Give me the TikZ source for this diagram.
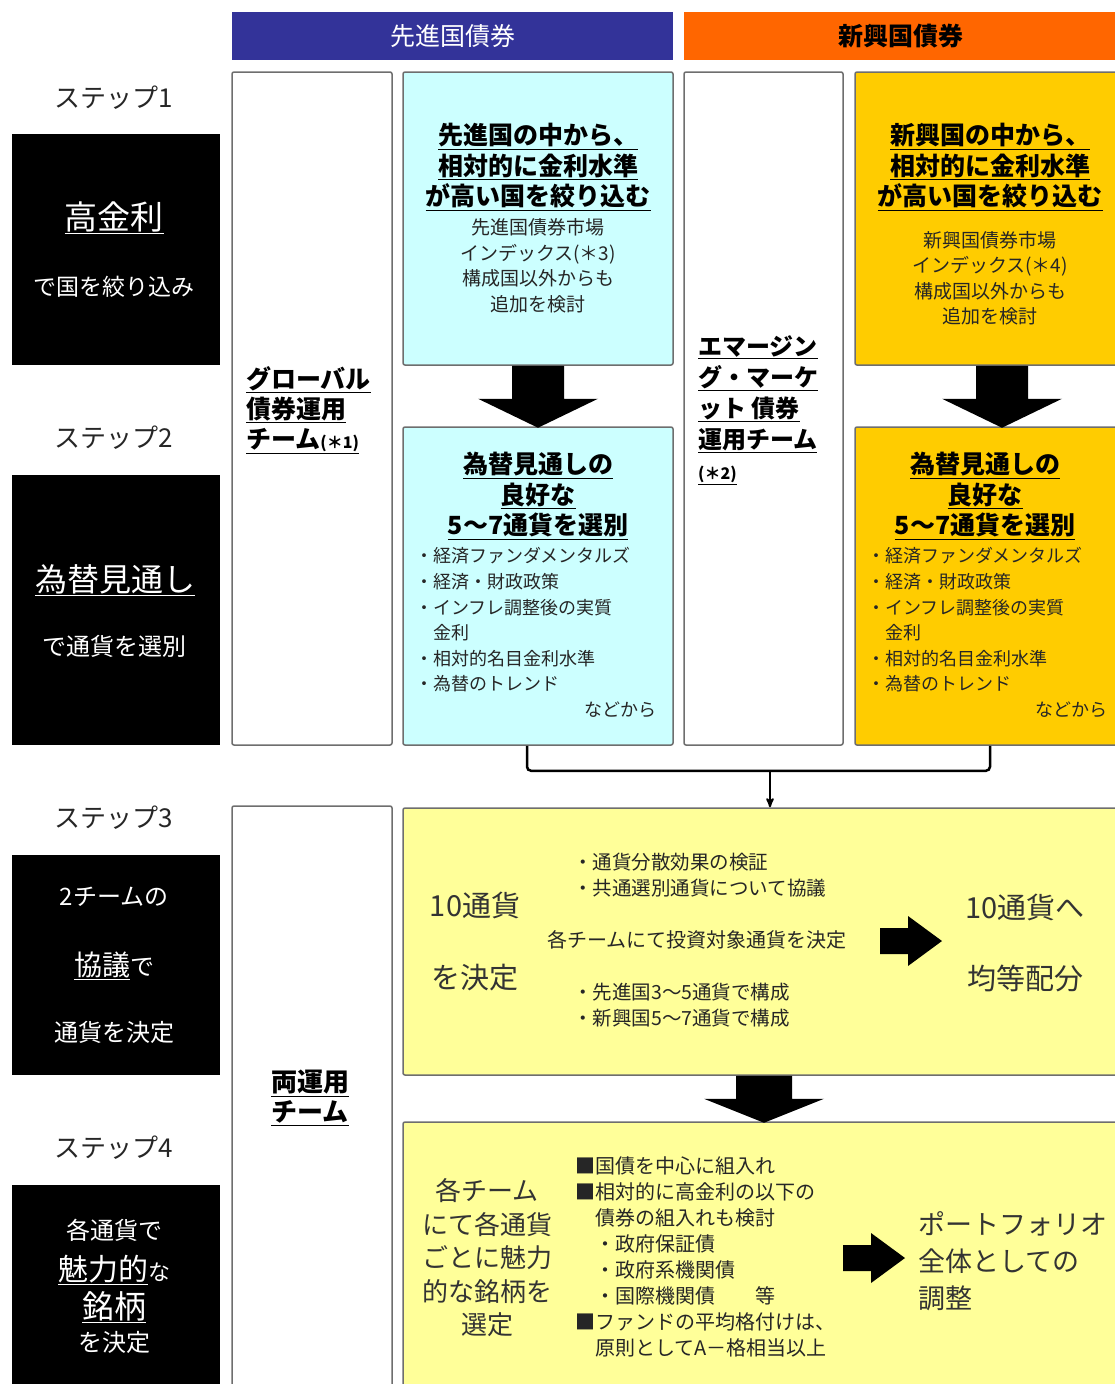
\documentclass[tikz,border=0pt]{standalone}
\usepackage{fontspec}
\setmainfont{Noto Sans CJK JP}
\usepackage{xcolor}
\definecolor{devBlue}{RGB}{51,51,153}
\definecolor{emgOrange}{RGB}{255,102,0}
\definecolor{devFill}{RGB}{204,255,255}
\definecolor{emgFill}{RGB}{255,204,0}
\definecolor{jointFill}{RGB}{255,255,153}
\definecolor{edgeGray}{RGB}{110,110,110}
\usepackage{tikz}
\usetikzlibrary{arrows,positioning,calc}
\newcommand{\fsz}[2]{\fontsize{#1}{#2}\selectfont}
\tikzstyle{hdr}=[rectangle, minimum height=48pt, inner sep=0pt, font=\fsz{25}{30}]
\tikzstyle{steplabel}=[inner sep=0pt, text=black!85, font=\fsz{26}{30}]
\tikzstyle{stepbox}=[rectangle, fill=black, minimum width=208pt, inner sep=0pt]
\tikzstyle{steptext}=[text=white, inner sep=0pt, align=center]
\tikzstyle{teamcol}=[rectangle, draw=edgeGray, line width=1.5pt, fill=white, rounded corners=2pt, minimum width=160pt, inner sep=0pt]
\tikzstyle{teamtext}=[inner sep=0pt, align=left, font=\bfseries\fsz{25}{30}]
\tikzstyle{devbox}=[rectangle, draw=edgeGray, line width=1.5pt, fill=devFill, rounded corners=2pt, minimum width=270pt, inner sep=0pt]
\tikzstyle{emgbox}=[rectangle, draw=edgeGray, line width=1.5pt, fill=emgFill, rounded corners=2pt, minimum width=290pt, inner sep=0pt]
\tikzstyle{yelbox}=[rectangle, draw=edgeGray, line width=1.5pt, fill=jointFill, rounded corners=2pt, minimum width=742pt, inner sep=0pt]
\tikzstyle{boxtitle}=[inner sep=0pt, align=center, font=\bfseries\fsz{25}{30.5}]
\tikzstyle{boxnote}=[inner sep=0pt, align=center, text=black!85, font=\fsz{19}{25.5}]
\tikzstyle{boxlist}=[inner sep=0pt, anchor=west, align=left, text=black!85, font=\fsz{18}{25.6}]
\tikzstyle{bigtext}=[inner sep=0pt, text=black!80, font=\fsz{29}{34}]
\tikzstyle{yellist}=[inner sep=0pt, anchor=west, align=left, text=black!85, font=\fsz{19.5}{26}]
\tikzstyle{joinline}=[line width=2.5pt, rounded corners=4pt]
\tikzstyle{joinarrow}=[->, >=stealth', line width=2pt]
\tikzstyle{fatarrow}=[fill=black]

\begin{document}
\begin{tikzpicture}[x=1pt, y=-1pt]
    \useasboundingbox (0,0) rectangle (1114,1384);

    % Cabeçalhos
    \node[hdr, fill=devBlue, text=white, minimum width=441pt] (hdev) at (452.5,36) {先進国債券};
    \node[hdr, fill=emgOrange, minimum width=434pt, font=\bfseries\fsz{25}{30}] (hemg) at (901,36) {新興国債券};

    % Etapas
    \foreach \n/\y in {1/98, 2/438, 3/818, 4/1148} {
      \node[steplabel] (lbl\n) at (114,\y) {ステップ\n};
    }
    \node[stepbox, minimum height=231pt] (stp1) at (116,249.5) {};
    \node[stepbox, minimum height=270pt] (stp2) at (116,610) {};
    \node[stepbox, minimum height=220pt] (stp3) at (116,965) {};
    \node[stepbox, minimum height=210pt] (stp4) at (116,1290) {};

    \node[steptext, font=\fsz{33}{36}] (stp1a) at (114,218) {\underline{高金利}};
    \node[steptext, font=\fsz{23}{26}] (stp1b) at (114,287) {で国を絞り込み};
    \node[steptext, font=\fsz{32}{36}] (stp2a) at (115,580) {\underline{為替見通し}};
    \node[steptext, font=\fsz{24}{26}] (stp2b) at (114,646) {で通貨を選別};
    \node[steptext, font=\fsz{24}{26}] (stp3a) at (114,897) {2チームの};
    \node[steptext, font=\fsz{24}{26}] (stp3b) at (114,966) {{\fsz{28}{30}\underline{協議}}で};
    \node[steptext, font=\fsz{24}{26}] (stp3c) at (114,1032) {通貨を決定};
    \node[steptext, font=\fsz{24}{26}] (stp4a) at (114,1230) {各通貨で};
    \node[steptext, font=\fsz{22}{26}] (stp4b) at (114,1270) {{\fsz{30}{32}\underline{魅力的}}な};
    \node[steptext, font=\fsz{32}{34}] (stp4c) at (114,1307) {\underline{銘柄}};
    \node[steptext, font=\fsz{24}{26}] (stp4d) at (114,1342) {を決定};

    % Equipes
    \node[teamcol, minimum height=673pt] (tmdev) at (312,408.5) {};
    \node[teamcol, minimum height=673pt, minimum width=159pt] (tmemg) at (763.5,408.5) {};
    \node[teamcol, minimum height=590pt] (tmboth) at (312,1101) {};
    \node[teamtext, anchor=west] (tmdevt) at (246,410)
         {\underline{グローバル}\\\underline{債券運用}\\\underline{チーム{\fsz{16}{18}(＊1)}}};
    \node[teamtext, anchor=west, font=\bfseries\fsz{24}{31}] (tmemgt) at (698,410)
         {\underline{エマージン}\\\underline{グ・マーケ}\\\underline{ット 債券}\\\underline{運用チーム}\\{\fsz{16}{18}\underline{(＊2)}}};
    \node[teamtext, align=center, font=\bfseries\fsz{26}{30}] (tmbotht) at (310,1098)
         {\underline{両運用}\\\underline{チーム}};

    % Caixas dos países desenvolvidos
    \node[devbox, minimum height=293pt] (dev1) at (538,218.5) {};
    \node[boxtitle] (dev1t) at (538,167) {\underline{先進国の中から、}\\\underline{相対的に金利水準}\\\underline{が高い国を絞り込む}};
    \node[boxnote] (dev1n) at (538,266) {先進国債券市場\\インデックス(＊3)\\構成国以外からも\\追加を検討};
    \node[devbox, minimum height=318pt] (dev2) at (538,586) {};
    \node[boxtitle] (dev2t) at (538,496) {\underline{為替見通しの}\\\underline{良好な}\\\underline{5～7通貨を選別}};
    \node[boxlist] (dev2l) at (415,620) {・経済ファンダメンタルズ\\・経済・財政政策\\・インフレ調整後の実質\\\hspace{1em}金利\\・相対的名目金利水準\\・為替のトレンド};
    \node[boxnote, anchor=east, font=\fsz{18}{22}] (dev2e) at (657,710) {などから};

    % Caixas dos países emergentes
    \node[emgbox, minimum height=293pt] (emg1) at (1000,218.5) {};
    \node[boxtitle] (emg1t) at (990,167) {\underline{新興国の中から、}\\\underline{相対的に金利水準}\\\underline{が高い国を絞り込む}};
    \node[boxnote] (emg1n) at (990,278.5) {新興国債券市場\\インデックス(＊4)\\構成国以外からも\\追加を検討};
    \node[emgbox, minimum height=318pt] (emg2) at (1000,586) {};
    \node[boxtitle] (emg2t) at (985,496) {\underline{為替見通しの}\\\underline{良好な}\\\underline{5～7通貨を選別}};
    \node[boxlist] (emg2l) at (867,620) {・経済ファンダメンタルズ\\・経済・財政政策\\・インフレ調整後の実質\\\hspace{1em}金利\\・相対的名目金利水準\\・為替のトレンド};
    \node[boxnote, anchor=east, font=\fsz{18}{22}] (emg2e) at (1108,710) {などから};

    % Setas grossas
    \fill[fatarrow] (dev1.south) ++(-26,0) -- ++(52,0) -- ++(0,33) -- ++(34,0) -- ++(-60,29) -- ++(-60,-29) -- ++(34,0) -- cycle;
    \fill[fatarrow] (emg1.south) ++(-24,0) -- ++(52,0) -- ++(0,33) -- ++(34,0) -- ++(-60,29) -- ++(-60,-29) -- ++(34,0) -- cycle;

    % Etapa 3
    \node[yelbox, minimum height=267pt] (yel3) at (774,941.5) {};
    \node[bigtext] (yel3a) at (475,905) {10通貨};
    \node[bigtext] (yel3b) at (475,978) {を決定};
    \node[yellist] (yel3c) at (573,875) {・通貨分散効果の検証\\・共通選別通貨について協議};
    \node[inner sep=0pt, text=black!85, font=\fsz{20}{24}] (yel3d) at (697,940) {各チームにて投資対象通貨を決定};
    \node[yellist] (yel3e) at (573,1005) {・先進国3～5通貨で構成\\・新興国5～7通貨で構成};
    \node[bigtext] (yel3f) at (1025,907) {10通貨へ};
    \node[bigtext] (yel3g) at (1025,978) {均等配分};
    \fill[fatarrow] (880,928) -- ++(28,0) -- ++(0,-12) -- ++(34,25) -- ++(-34,25) -- ++(0,-12) -- ++(-28,0) -- cycle;

    % Junção
    \coordinate (jn) at (770,770);
    \draw[joinline] ([xshift=-11pt]dev2.south) -- ++(0,25) -| ([xshift=-10pt]emg2.south);
    \draw[joinarrow] (jn) -- (jn |- yel3.north);

    % Etapa 4
    \node[yelbox, minimum height=275pt] (yel4) at (774,1259.5) {};
    \fill[fatarrow] ([xshift=-6pt]yel3.south -| jn) ++(-28,0) -- ++(56,0) -- ++(0,23) -- ++(32,0) -- ++(-60,24) -- ++(-60,-24) -- ++(32,0) -- cycle;
    \node[inner sep=0pt, align=center, text=black!80, font=\fsz{26}{33.5}] (yel4a) at (487,1258) {各チーム\\にて各通貨\\ごとに魅力\\的な銘柄を\\選定};
    \node[yellist, font=\fsz{20}{26}] (yel4b) at (575,1257) {■国債を中心に組入れ\\■相対的に高金利の以下の\\\hspace{1em}債券の組入れも検討\\\hspace{1em}・政府保証債\\\hspace{1em}・政府系機関債\\\hspace{1em}・国際機関債\hspace{2em}等\\■ファンドの平均格付けは、\\\hspace{1em}原則としてA－格相当以上};
    \fill[fatarrow] (843,1245) -- ++(28,0) -- ++(0,-12) -- ++(34,25) -- ++(-34,25) -- ++(0,-12) -- ++(-28,0) -- cycle;
    \node[yellist, text=black!80, font=\fsz{27}{37}] (yel4c) at (918,1261) {ポートフォリオ\\全体としての\\調整};
  \end{tikzpicture}
\end{document}
